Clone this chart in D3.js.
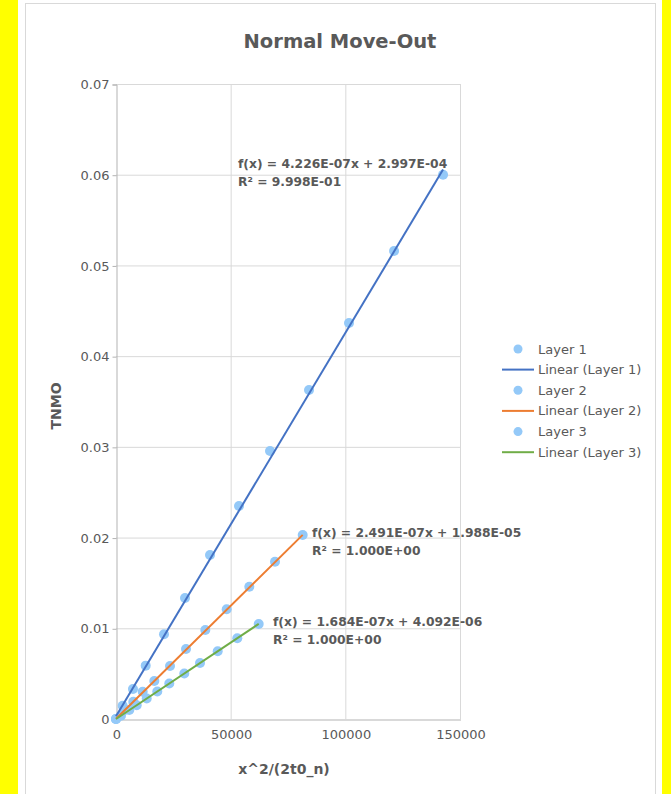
<!DOCTYPE html>
<html>
<head>
<meta charset="utf-8">
<script src="https://cdn.jsdelivr.net/npm/d3@7"></script>
<style>
  body { margin: 0; background: #ffff00; }
  svg { display: block; }
  text { font-family: "DejaVu Sans", sans-serif; fill: #595959; }
</style>
</head>
<body>
<svg id="chart" width="671" height="794"></svg>
<script>
// data
const layer1X = [0, 2900, 7400, 12950, 20930, 30090, 40990, 53640, 67160, 84170, 101610, 121240, 142610];
const layer1Y = [0, 0.00146, 0.00331, 0.00588, 0.00935, 0.01334, 0.01808, 0.02348, 0.02954, 0.03627, 0.04366, 0.05159, 0.06000];
const layer2X = [0, 3900, 7540, 11640, 16700, 23550, 30520, 38940, 48270, 58130, 69330, 81410];
const layer2Y = [0, 0.00100, 0.00191, 0.00301, 0.00419, 0.00584, 0.00772, 0.00981, 0.01209, 0.01458, 0.01734, 0.02028];
const layer3X = [0, 2180, 5800, 9030, 13390, 18010, 23240, 29780, 36630, 44350, 52890, 62230];
const layer3Y = [0, 0.00037, 0.00099, 0.00152, 0.00226, 0.00304, 0.00392, 0.00502, 0.00617, 0.00747, 0.00891, 0.01048];

const slopes = [4.226e-7, 2.491e-7, 1.684e-7];
const intercepts = [2.997e-4, 1.988e-5, 4.092e-6];
const fitLabels = [
  ["f(x) = 4.226E-07x + 2.997E-04", "R² = 9.998E-01"],
  ["f(x) = 2.491E-07x + 1.988E-05", "R² = 1.000E+00"],
  ["f(x) = 1.684E-07x + 4.092E-06", "R² = 1.000E+00"]
];
const seriesNames = ["Layer 1", "Layer 2", "Layer 3"];
const lineColors = ["#4472c4", "#ed7d31", "#70ad47"];
const xTicks = [0, 50000, 100000, 150000];
const yTicks = [0, 0.01, 0.02, 0.03, 0.04, 0.05, 0.06, 0.07];

const series = [
  layer1X.map((x, i) => ({ x, y: layer1Y[i] })),
  layer2X.map((x, i) => ({ x, y: layer2Y[i] })),
  layer3X.map((x, i) => ({ x, y: layer3Y[i] }))
];

const dotColor = "#94c9f8";
const svg = d3.select("#chart");

// white chart background with thin border
svg.append("rect").attr("x", 18).attr("y", 0).attr("width", 644).attr("height", 794).attr("fill", "#fff");
svg.append("rect").attr("x", 25.5).attr("y", 3.5).attr("width", 630).attr("height", 800)
  .attr("fill", "none").attr("stroke", "#d9d9d9");

const xScale = d3.scaleLinear().domain([0, 150000]).range([116, 460]);
const yScale = d3.scaleLinear().domain([0, 0.07]).range([719, 84]);

// grid
const grid = svg.append("g");
grid.selectAll(".gx").data(xTicks.slice(1)).join("line")
  .attr("x1", d => xScale(d) + 0.5).attr("x2", d => xScale(d) + 0.5)
  .attr("y1", yScale(0.07)).attr("y2", yScale(0))
  .attr("stroke", "#d9d9d9");
grid.selectAll(".gy").data(yTicks.slice(1)).join("line")
  .attr("x1", xScale(0)).attr("x2", xScale(150000))
  .attr("y1", d => yScale(d) + 0.5).attr("y2", d => yScale(d) + 0.5)
  .attr("stroke", "#d9d9d9");

// axes
const xAxis = svg.append("g").attr("transform", `translate(0.5, ${yScale(0) + 0.5})`)
  .call(d3.axisBottom(xScale).tickValues(xTicks).tickSize(0).tickPadding(10).tickFormat(d3.format("d")));
const yAxis = svg.append("g").attr("transform", `translate(${xScale(0) + 0.5}, 0.5)`)
  .call(d3.axisLeft(yScale).tickValues(yTicks).tickSize(4).tickPadding(3).tickFormat(d => d === 0 ? "0" : d3.format(".2f")(d)));
[xAxis, yAxis].forEach(a => {
  a.select(".domain").attr("stroke", "#b3b3b3");
  a.selectAll(".tick line").attr("stroke", "#b3b3b3");
  a.selectAll("text").attr("font-size", 13).attr("font-family", "DejaVu Sans").attr("fill", "#666");
});

// scatter points
series.forEach(s => {
  svg.append("g").selectAll("circle").data(s).join("circle")
    .attr("cx", d => xScale(d.x)).attr("cy", d => yScale(d.y))
    .attr("r", 5).attr("fill", dotColor);
});

// trend lines
series.forEach((s, i) => {
  const xs = [0, d3.max(s, d => d.x)];
  svg.append("line")
    .attr("x1", xScale(xs[0])).attr("y1", yScale(slopes[i] * xs[0] + intercepts[i]))
    .attr("x2", xScale(xs[1])).attr("y2", yScale(slopes[i] * xs[1] + intercepts[i]))
    .attr("stroke", lineColors[i]).attr("stroke-width", 2);
});

// equation labels
const labelPos = [[238, 168], [312, 537], [273, 626]];
fitLabels.forEach((lines, i) => {
  const t = svg.append("text").attr("x", labelPos[i][0]).attr("y", labelPos[i][1])
    .attr("font-size", 12.3).attr("font-weight", "bold");
  lines.forEach((l, j) => t.append("tspan").attr("x", labelPos[i][0]).attr("dy", j ? 18 : 0).text(l));
});

// titles
svg.append("text").attr("x", 340).attr("y", 48).attr("text-anchor", "middle")
  .attr("font-size", 19.5).attr("font-weight", "bold").text("Normal Move-Out");
svg.append("text").attr("x", 284).attr("y", 774).attr("text-anchor", "middle")
  .attr("font-size", 14).attr("font-weight", "bold").text("x^2/(2t0_n)");
svg.append("text").attr("transform", "translate(61, 406) rotate(-90)").attr("text-anchor", "middle")
  .attr("font-size", 14).attr("font-weight", "bold").text("TNMO");

// legend
const legend = svg.append("g");
seriesNames.forEach((name, i) => {
  const y0 = 349 + i * 41.3;
  legend.append("circle").attr("cx", 518).attr("cy", y0).attr("r", 4.5).attr("fill", dotColor);
  legend.append("text").attr("x", 538).attr("y", y0 + 4.5).attr("font-size", 13).attr("fill", "#666").text(name);
  const y1 = y0 + 20.6;
  legend.append("line").attr("x1", 502).attr("x2", 534).attr("y1", y1).attr("y2", y1)
    .attr("stroke", lineColors[i]).attr("stroke-width", 2);
  legend.append("text").attr("x", 538).attr("y", y1 + 4.5).attr("font-size", 13).attr("fill", "#666").text(`Linear (${name})`);
});
</script>
</body>
</html>
